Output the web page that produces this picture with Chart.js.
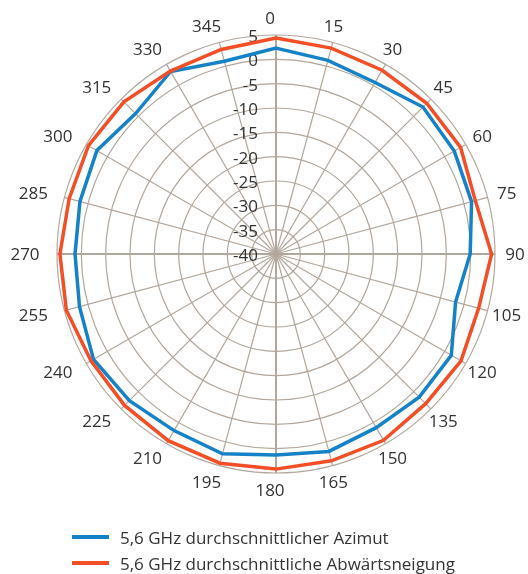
<!DOCTYPE html>
<html>
<head>
<meta charset="utf-8">
<script src="https://cdn.jsdelivr.net/npm/chart.js@4"></script>
<style>
  body { margin: 0; background: #fff; font-family: "Open Sans", sans-serif; }
  #wrap { position: relative; width: 528px; height: 574px; }
  #legend { position: absolute; left: 72px; top: 524px; color: #333; font-size: 17px; }
  .item { display: flex; align-items: center; height: 26px; }
  .swatch { width: 37px; height: 4px; margin-right: 11px; }
</style>
</head>
<body>
<div id="wrap">
  <canvas id="chart" width="528" height="574"></canvas>
  <div id="legend"></div>
</div>
<script>
// Angles (degrees) around the polar plot
const angles = ['0', '15', '30', '45', '60', '75', '90', '105', '120', '135', '150', '165',
                '180', '195', '210', '225', '240', '255', '270', '285', '300', '315', '330', '345'];

// Radial tick labels (dB)
const tickValues = [-40, -35, -30, -25, -20, -15, -10, -5, 0, 5];

// Series values
const azimuth = [2.3, 1.2, 0.7, 2.7, 2.3, 1.6, -0.1, -1.8, 1.6, 1.6, 1.2, 2.0,
                 1.3, 2.5, 1.9, 2.6, 3.3, 1.8, 1.3, 1.7, 2.5, 0.8, 3.3, 1.0];
const downtilt = [4.4, 3.8, 3.6, 3.8, 3.8, 2.4, 4.3, 3.1, 3.9, 3.5, 4.2, 4.0,
                  4.2, 4.5, 4.3, 4.0, 3.9, 4.6, 4.4, 4.0, 4.5, 4.2, 3.4, 3.5];

const seriesNames = ['5,6 GHz durchschnittlicher Azimut', '5,6 GHz durchschnittliche Abwärtsneigung'];
const seriesColors = ['#1582c8', '#f24f27'];

const gridColor = '#b2a79c';
const textColor = '#333333';
const font = '17px "Open Sans"';

// Tick and angle labels drawn next to the grid
const labelPlugin = {
    id: 'polarLabels',
    beforeDatasetsDraw(chart) {
        const scale = chart.scales.r;
        const ctx = chart.ctx;
        ctx.save();
        ctx.font = font;
        ctx.fillStyle = textColor;
        // radial ticks, right aligned left of the vertical axis
        ctx.textAlign = 'right';
        ctx.textBaseline = 'middle';
        tickValues.forEach(v => {
            const d = scale.getDistanceFromCenterForValue(v);
            ctx.fillText(String(v), scale.xCenter - 18, scale.yCenter - d + 2);
        });
        // angle labels
        ctx.textAlign = 'center';
        const R = scale.drawingArea;
        angles.forEach((a, i) => {
            const ang = scale.getIndexAngle(i);
            const x = scale.xCenter - 6 + (R + 26) * Math.sin(ang);
            const y = scale.yCenter + 1 - (R + 17) * Math.cos(ang);
            ctx.fillText(a, x, y);
        });
        ctx.restore();
    }
};

new Chart(document.getElementById('chart'), {
    type: 'radar',
    data: {
        labels: angles,
        datasets: [
            {
                label: seriesNames[0],
                data: azimuth,
                borderColor: seriesColors[0],
                borderWidth: 3.5,
                fill: false,
                pointRadius: 0,
                order: 1
            },
            {
                label: seriesNames[1],
                data: downtilt,
                borderColor: seriesColors[1],
                borderWidth: 3.5,
                fill: false,
                pointRadius: 0,
                order: 0
            }
        ]
    },
    options: {
        responsive: false,
        animation: false,
        layout: { padding: { left: 57, right: 33, top: 35, bottom: 101 } },
        plugins: {
            legend: { display: false },
            tooltip: { enabled: false }
        },
        scales: {
            r: {
                min: -40,
                max: 5,
                ticks: { stepSize: 5, display: false },
                grid: { circular: true, color: gridColor, lineWidth: 1.2 },
                angleLines: {
                    color: gridColor,
                    lineWidth: ctx => (ctx.index % 6 === 0 ? 2 : 1.2)
                },
                pointLabels: { display: false }
            }
        }
    },
    plugins: [labelPlugin]
});

// HTML legend
const legend = document.getElementById('legend');
seriesNames.forEach((name, i) => {
    const row = document.createElement('div');
    row.className = 'item';
    row.innerHTML = '<span class="swatch" style="background:' + seriesColors[i] + '"></span><span>' + name + '</span>';
    legend.appendChild(row);
});
</script>
</body>
</html>
